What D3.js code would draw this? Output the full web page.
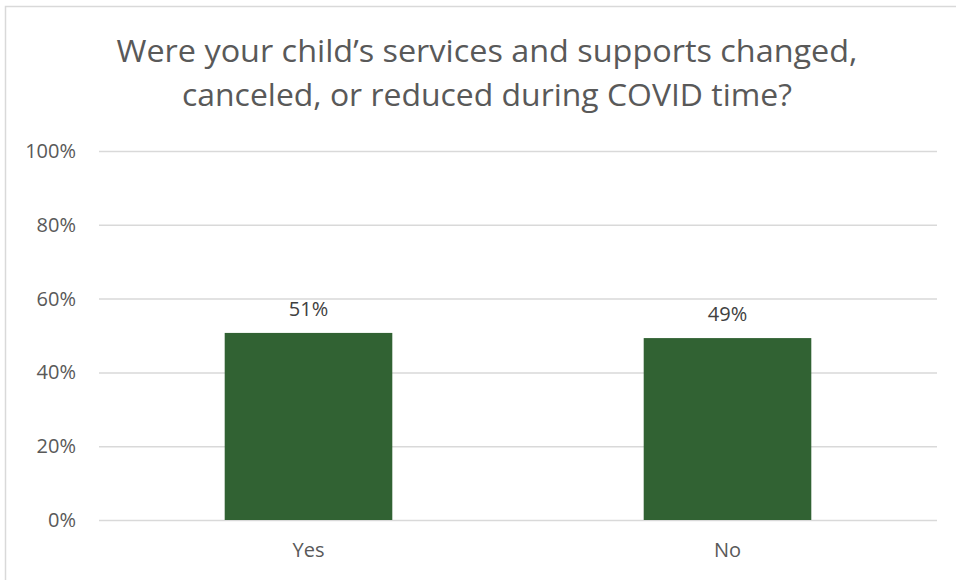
<!DOCTYPE html>
<html>
<head>
<meta charset="utf-8">
<script src="https://cdn.jsdelivr.net/npm/d3@7/dist/d3.min.js"></script>
<style>
  html, body { margin: 0; padding: 0; background: #fff; }
  svg { display: block; }
</style>
</head>
<body>
<svg id="chart" width="956" height="580"></svg>
<script>
// ---- data ----
const titleLines = ["Were your child\u2019s services and supports changed,", "canceled, or reduced during COVID time?"];
const categories = ["Yes", "No"];
const values = [0.507, 0.493];
const valueLabels = ["51%", "49%"];
const yTicks = [0, 0.2, 0.4, 0.6, 0.8, 1.0];

// ---- layout ----
const W = 956, H = 580;
const plot = { left: 99, right: 937, top: 151, bottom: 520 };
const FONT = "'Open Sans', 'Noto Sans', sans-serif";
const TEXT = "#595959";
const GRID = "#d9d9d9";
const BAR = "#316233";

const svg = d3.select("#chart");

// outer chart border (top & left visible)
svg.append("rect")
  .attr("x", 5.5).attr("y", 6.5)
  .attr("width", W + 20).attr("height", H + 20)
  .attr("fill", "#fff")
  .attr("stroke", GRID).attr("stroke-width", 1.5);

// title
const titleTargets = [741, 610];
const titleBaselines = [62, 106];
const titleCenter = 487;
titleLines.forEach((t, i) => {
  svg.append("text")
    .attr("x", titleCenter)
    .attr("y", titleBaselines[i])
    .attr("text-anchor", "middle")
    .attr("font-family", FONT)
    .attr("font-size", 31)
    .attr("fill", TEXT)
    .attr("textLength", titleTargets[i])
    .attr("lengthAdjust", "spacingAndGlyphs")
    .text(t);
});

// scales
const x = d3.scaleBand()
  .domain(categories)
  .range([plot.left, plot.right])
  .paddingInner(0.6)
  .paddingOuter(0.3);

const y = d3.scaleLinear()
  .domain([0, 1])
  .range([plot.bottom, plot.top]);

// y axis with gridlines
const yAxis = d3.axisLeft(y)
  .tickValues(yTicks)
  .tickFormat(d3.format(".0%"))
  .tickSize(-(plot.right - plot.left))
  .tickPadding(23);

const gy = svg.append("g")
  .attr("transform", `translate(${plot.left},0)`)
  .call(yAxis);
gy.select(".domain").remove();
gy.selectAll(".tick line").attr("stroke", GRID).attr("stroke-width", 1.5);
gy.selectAll(".tick text")
  .attr("font-family", FONT)
  .attr("font-size", 20)
  .attr("fill", TEXT);

// bars
svg.append("g").selectAll("rect")
  .data(categories)
  .join("rect")
  .attr("x", d => x(d))
  .attr("width", x.bandwidth())
  .attr("y", (d, i) => y(values[i]))
  .attr("height", (d, i) => y(0) - y(values[i]))
  .attr("fill", BAR);

// value labels
svg.append("g").selectAll("text")
  .data(categories)
  .join("text")
  .attr("x", d => x(d) + x.bandwidth() / 2)
  .attr("y", (d, i) => y(values[i]) - 17)
  .attr("text-anchor", "middle")
  .attr("font-family", FONT)
  .attr("font-size", 20)
  .attr("fill", "#404040")
  .text((d, i) => valueLabels[i]);

// x axis labels
const xAxis = d3.axisBottom(x).tickSize(0).tickPadding(23);
const gx = svg.append("g")
  .attr("transform", `translate(0,${plot.bottom})`)
  .call(xAxis);
gx.select(".domain").remove();
gx.selectAll(".tick text")
  .attr("font-family", FONT)
  .attr("font-size", 20)
  .attr("fill", TEXT);
</script>
</body>
</html>
